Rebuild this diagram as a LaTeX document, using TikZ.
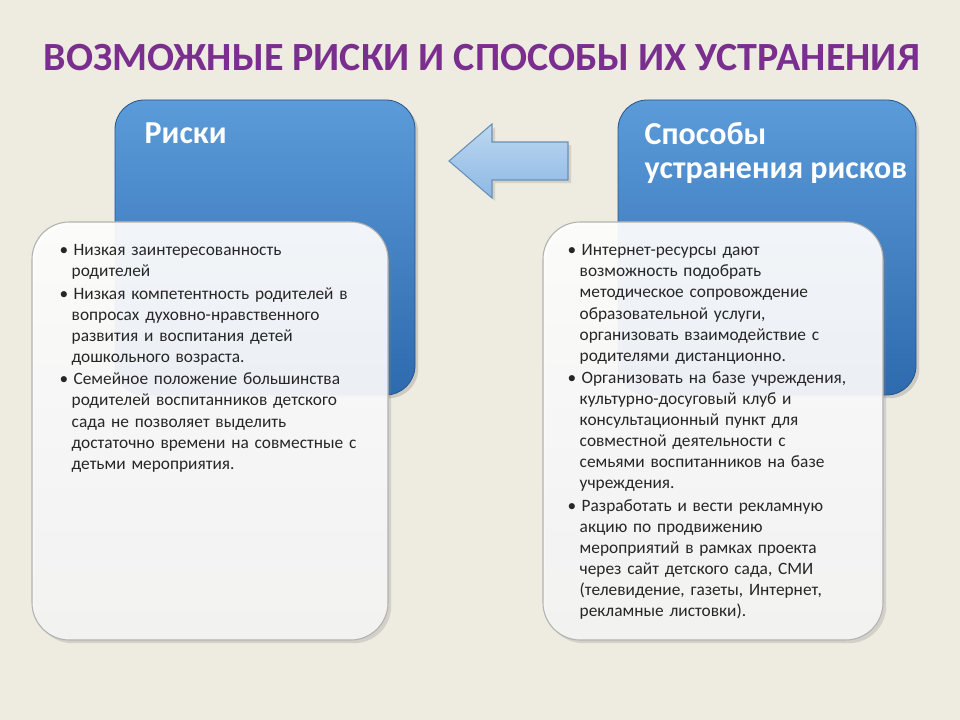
\documentclass[tikz,border=0pt]{standalone}
\usepackage{fontspec}
\setmainfont{Carlito}
\usetikzlibrary{shadows}
\definecolor{bg}{HTML}{EEEBE1}
\definecolor{blueT}{HTML}{5B9BD9}
\definecolor{blueB}{HTML}{2E6AAE}
\definecolor{ttl}{HTML}{7A2F8E}
\tikzset{
 bluebox/.style={rounded corners=22pt,top color=blueT,bottom color=blueB,draw=blueB!80!black,line width=0.6pt,drop shadow={opacity=0.3}},
 whitebox/.style={rounded corners=28pt,top color=white,bottom color=white!92!gray,fill opacity=0.92,draw=gray!60,line width=0.8pt,drop shadow={opacity=0.25}},
 head/.style={anchor=north west,text=white,font=\bfseries\fontsize{24}{27}\selectfont,align=left},
 body/.style={anchor=north west,font=\fontsize{13}{15.8}\selectfont,text=black!85,align=left},
}
\newcommand{\itm}[1]{\raggedright\hangindent=9pt\hangafter=1\noindent•\hspace{4pt}#1\par\vspace{1pt}}
\begin{document}
\begin{tikzpicture}[x=0.75pt,y=-0.75pt]
\fill[bg] (0,0) rectangle (960,720);
\useasboundingbox (0,0) rectangle (960,720);
\node[font=\bfseries\fontsize{30}{32}\selectfont,text=ttl,draw=none] (title) at (482,58) {ВОЗМОЖНЫЕ РИСКИ И СПОСОБЫ ИХ УСТРАНЕНИЯ};
\draw[bluebox] (115,100) rectangle (415,395);
\draw[bluebox] (618,100) rectangle (916,395);
\node[head] (h1) at (140,118) {Риски};
\node[head] (h2) at (640,118) {Способы\\[-2pt]устранения рисков};
\draw[top color=blueT!40!white,bottom color=blueT!70!white,draw=blueT!60!gray,line width=0.8pt,drop shadow={opacity=0.25}]
 (568,142) -- (492,142) -- (492,124) -- (449,161) -- (492,198) -- (492,180) -- (568,180) -- cycle;
\draw[whitebox] (32,222) rectangle (388,640);
\draw[whitebox] (543,222) rectangle (883,640);
\node[body,text width=228pt] (b1) at (55,240) {%
\itm{Низкая заинтересованность родителей}
\itm{Низкая компетентность родителей в вопросах духовно-нравственного развития и воспитания детей дошкольного возраста.}
\itm{Семейное положение большинства родителей воспитанников детского сада не позволяет выделить достаточно времени на совместные с детьми мероприятия.}};
\node[body,text width=214pt] (b2) at (563,240) {%
\itm{Интернет-ресурсы дают возможность подобрать методическое сопровождение образовательной услуги, организовать взаимодействие с родителями дистанционно.}
\itm{Организовать на базе учреждения, культурно-досуговый клуб и консультационный пункт для совместной деятельности с семьями воспитанников на базе учреждения.}
\itm{Разработать и вести рекламную акцию по продвижению мероприятий в рамках проекта через сайт детского сада, СМИ (телевидение, газеты, Интернет, рекламные листовки).}};
\end{tikzpicture}
\end{document}
